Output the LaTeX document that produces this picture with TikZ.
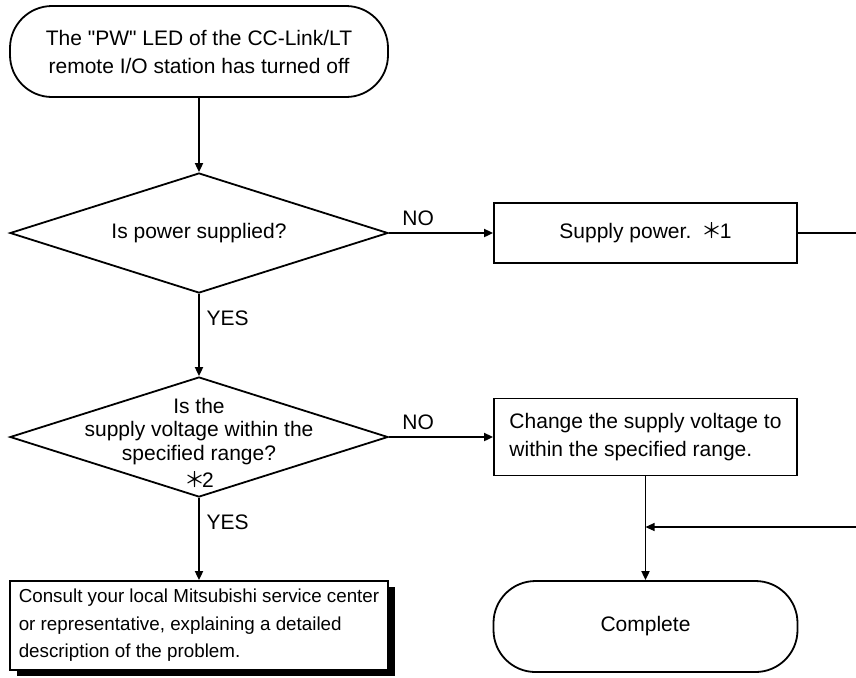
\documentclass[tikz,border=0pt]{standalone}
\usepackage{fontspec}
\setmainfont{Liberation Sans}
\newfontfamily\cjkfont{Noto Sans CJK JP}
\usetikzlibrary{arrows.meta, positioning, shapes.geometric, shadows}
\newcommand{\flowtext}{\fontsize{10.5}{14}\selectfont}
\newcommand{\asktext}{\fontsize{10.5}{11.6}\selectfont}
\newcommand{\notetext}{\fontsize{9.4}{13.8}\selectfont}
\newcommand{\note}[1]{{\cjkfont ＊}\kern-1.5pt#1}

\begin{document}
\begin{tikzpicture}[
  x=0.5pt, y=-0.5pt,
  term/.style={draw, line width=0.9pt, rounded corners=21pt, align=center,
               font=\flowtext, minimum width=189pt, minimum height=45.5pt},
  dia/.style={draw, diamond, line width=0.9pt, inner sep=0pt,
              minimum width=189pt, minimum height=60pt},
  ask/.style={align=center, font=\asktext, inner sep=0pt},
  box/.style={draw, line width=0.9pt, align=left, font=\flowtext,
              minimum width=151.5pt},
  arr/.style={-{Triangle[length=4.5pt, width=4pt]}, line width=0.9pt},
  thinline/.style={line width=0.6pt},
  lbl/.style={font=\flowtext}
]
\fill[white] (0,0) rectangle (856,677);
\useasboundingbox (0,0) rectangle (856,677);

% left column
\node[term] (start) at (199,51.5)
  {The \textquotedbl PW\textquotedbl{} LED of the CC-Link/LT\\remote I/O station has turned off};
\node[dia] (d1) at (199,233) {};
\node[ask] (d1txt) at (d1) {Is power supplied?};
\node[dia] (d2) at (199,437) {};
\node[ask, yshift=-3pt] (d2txt) at (d2)
  {Is the\\supply voltage within the\\specified range?\\[2pt]\note{2}};
\node[box, font=\notetext, minimum width=189pt, minimum height=44.5pt,
      drop shadow={shadow xshift=3.5pt, shadow yshift=-3pt, fill=black, opacity=1},
      fill=white] (consult) at (199,625.5)
  {Consult your local Mitsubishi service center\\
   or representative, explaining a detailed\\
   description of the problem.};

% right column
\node[box, align=center, minimum height=30pt] (supply) at (645.5,233)
  {Supply power.\enspace\note{1}};
\node[box, minimum height=38.5pt] (change) at (645.5,437)
  {Change the supply voltage to\\within the specified range.};
\node[term, minimum width=152pt] (done) at (645.5,626.5) {Complete};

\coordinate (out1) at (856,233);
\coordinate (back) at (856,527);
\coordinate (join) at (change.south |- back);

% edges
\draw[arr] (start.south) -- (d1.north);
\draw[arr] (d1.east) -- (supply.west)
  node[lbl, pos=0, above right, xshift=3pt] {NO};
\draw[arr] (d1.south) -- (d2.north)
  node[lbl, pos=0.3, right] {YES};
\draw[arr] (d2.east) -- (change.west)
  node[lbl, pos=0, above right, xshift=3pt] {NO};
\draw[arr] (d2.south) -- (consult.north)
  node[lbl, pos=0.3, right] {YES};
\draw[arr] (change.south) -- (done.north);
\draw[thinline] (supply.east) -- (out1);
\draw[arr, thinline] (back) -- (join);

\end{tikzpicture}
\end{document}
